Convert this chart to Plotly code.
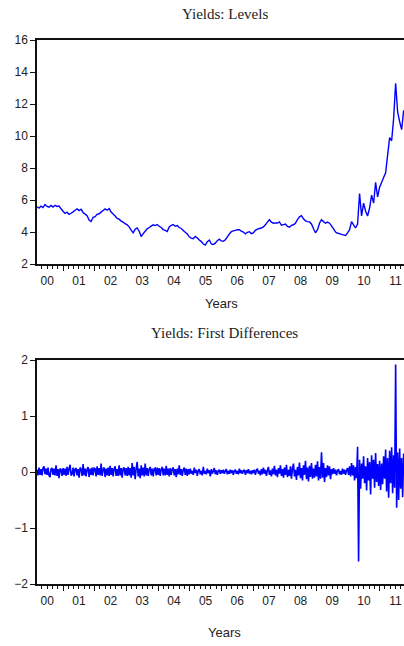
import pandas as pd
import plotly.graph_objects as go

# ---------------- data ----------------
start_date = "2000-03-06"
end_date = "2011-10-04"

# Yield levels, roughly every 23 days
level_values = [
    5.58, 5.50, 5.62, 5.53, 5.72, 5.60, 5.55, 5.66, 5.56, 5.67, 5.60, 5.62, 5.45,
    5.30, 5.16, 5.24, 5.10, 5.17, 5.26, 5.36, 5.44, 5.34, 5.42, 5.22, 5.12, 5.02,
    4.75, 4.66, 4.92, 4.96, 5.10, 5.14, 5.24, 5.34, 5.44, 5.36, 5.46, 5.25, 5.12,
    5.00, 4.85, 4.80, 4.68, 4.62, 4.52, 4.45, 4.32, 4.12, 3.95, 4.17, 4.25, 4.05,
    3.72, 3.90, 4.05, 4.20, 4.28, 4.37, 4.45, 4.40, 4.47, 4.36, 4.28, 4.15, 4.10,
    4.03, 4.32, 4.42, 4.47, 4.36, 4.40, 4.28, 4.22, 4.10, 3.98, 3.88, 3.70, 3.62,
    3.58, 3.72, 3.63, 3.50, 3.40, 3.25, 3.18, 3.40, 3.50, 3.25, 3.22, 3.30, 3.46,
    3.55, 3.44, 3.42, 3.52, 3.70, 3.88, 4.02, 4.07, 4.10, 4.14, 4.15, 4.05, 4.00,
    3.88, 3.98, 4.02, 3.90, 3.95, 4.10, 4.18, 4.22, 4.25, 4.32, 4.45, 4.62, 4.77,
    4.62, 4.55, 4.57, 4.56, 4.63, 4.42, 4.46, 4.50, 4.35, 4.30, 4.42, 4.45, 4.55,
    4.78, 4.95, 5.02, 4.82, 4.70, 4.65, 4.63, 4.50, 4.20, 3.95, 4.15, 4.55, 4.77,
    4.65, 4.55, 4.62, 4.55, 4.38, 4.20, 4.00, 3.92, 3.90, 3.85, 3.82, 3.78, 3.95,
    4.15, 4.65, 4.45, 4.25, 4.50, 6.40, 5.00, 5.80, 5.30, 5.00, 5.50, 6.30, 5.80,
    7.10, 6.20, 6.80, 7.10, 7.40, 7.70, 8.80, 9.90, 9.70, 11.10, 13.30, 11.50,
    10.90, 10.40, 11.60,
]

# Yield first differences, roughly every 11.5 days
diff_values = [
    # 2000
    0.04, -0.06, 0.08, -0.05, 0.05, -0.06, 0.07, 0.10, -0.04, 0.06, -0.05, 0.08, -0.06,
    -0.09, 0.05, 0.07, -0.05, 0.06, -0.06, 0.12, -0.07, 0.05, -0.11, 0.06, 0.04, -0.07,
    # 2001
    0.07, -0.05, 0.06, -0.07, 0.09, -0.05, 0.06, 0.13, -0.06, -0.04, 0.08, -0.08, 0.05,
    0.07, -0.06, 0.05, -0.10, 0.08, 0.05, -0.07, 0.14, -0.06, 0.06, -0.08, 0.05, 0.09,
    -0.09, 0.06, -0.05, 0.08, -0.06, 0.07,
    # 2002
    0.06, -0.08, 0.10, -0.05, 0.07, -0.06, 0.15, -0.07, 0.05, 0.08, -0.09, 0.06, -0.06,
    0.08, -0.07, 0.11, -0.05, 0.07, -0.08, 0.06, 0.10, -0.07, 0.05, -0.07, 0.12, -0.06,
    0.07, -0.10, 0.06, 0.08, -0.06, 0.07,
    # 2003
    -0.07, 0.09, -0.06, 0.07, -0.10, 0.16, -0.06, 0.09, -0.13, 0.06, 0.18, -0.08, 0.06,
    -0.11, 0.12, -0.06, 0.08, -0.08, 0.15, -0.06, 0.07, -0.07, 0.05, 0.09, -0.06, 0.06,
    -0.08, 0.06, 0.07, -0.06, 0.08,
    # 2004
    -0.05, 0.07, -0.07, 0.05, 0.09, -0.06, 0.06, -0.06, 0.11, -0.05, 0.06, -0.08, 0.07,
    -0.05, 0.05, 0.08, -0.06, 0.05, -0.09, 0.06, -0.04, 0.12, -0.05, 0.05, -0.07, 0.04,
    0.08, -0.05, 0.06, -0.07, 0.05, -0.04,
    # 2005
    0.06, -0.03, 0.02, -0.05, 0.08, -0.02, 0.04, -0.07, 0.03, 0.05, -0.04, 0.02, -0.06,
    0.09, -0.03, 0.02, -0.04, 0.06, -0.02, 0.03, -0.08, 0.05, -0.03, 0.02, 0.07, -0.04,
    0.03, -0.05, 0.02, 0.04, -0.03,
    # 2006
    0.03, -0.02, 0.04, -0.03, 0.02, 0.05, -0.04, 0.02, -0.03, 0.04, -0.02, 0.03, -0.05,
    0.02, 0.04, -0.03, 0.02, -0.04, 0.06, -0.02, 0.03, -0.03, 0.02, 0.04, -0.05, 0.03,
    -0.02, 0.05, -0.03, 0.02, -0.04, 0.03,
    # 2007
    -0.02, 0.04, -0.05, 0.03, 0.06, -0.03, 0.02, -0.06, 0.05, -0.04, 0.08, -0.03, 0.04,
    -0.07, 0.03, 0.09, -0.05, 0.03, -0.08, 0.06, -0.04, 0.11, -0.06, 0.04, -0.09, 0.07,
    -0.03, 0.12, -0.07, 0.05, -0.10,
    # 2008
    0.08, -0.05, 0.13, -0.09, 0.04, -0.07, 0.10, -0.12, 0.06, 0.15, -0.08, 0.04, -0.14,
    0.09, -0.06, 0.17, -0.11, 0.07, -0.15, 0.12, -0.05, 0.20, -0.13, 0.08, -0.17, 0.11,
    -0.09, 0.16, -0.12, 0.06, -0.10,
    # 2009
    0.13, -0.08, 0.19, -0.15, 0.09, -0.12, 0.35, -0.10, 0.16, -0.18, 0.07, -0.09, 0.12,
    -0.06, 0.10, -0.13, 0.05, -0.04, 0.07, -0.03, 0.04, -0.06, 0.03, 0.05, -0.04, 0.02,
    -0.05, 0.06, -0.03, 0.04, -0.05, 0.03,
    # 2010
    0.07, -0.05, 0.10, -0.08, 0.16, -0.06, 0.12, -0.15, 0.09, -0.11, 0.45, -1.60, 0.22,
    -0.30, 0.15, -0.12, 0.28, -0.20, 0.10, -0.33, 0.25, -0.15, 0.18, -0.40, 0.30, -0.12,
    0.22, -0.28, 0.34, -0.18, 0.14, -0.25,
    # 2011
    0.20, -0.32, 0.15, -0.22, 0.28, -0.12, 0.40, -0.35, 0.25, -0.46, 0.38, -0.20, 0.44,
    -0.38, 0.30, -0.28, 1.92, -0.64, 0.35, -0.50, 0.42, -0.30, 0.25, -0.45, 0.33,
]

top_title = "Yields: Levels"
bottom_title = "Yields: First Differences"
x_title = "Years"

# ---------------- figure ----------------
level_dates = pd.date_range(start_date, end_date, periods=len(level_values))
diff_dates = pd.date_range(start_date, end_date, periods=len(diff_values))

W, H = 404, 646
BLUE = "#0000ff"
SANS = "Liberation Sans, Arial, Helvetica, sans-serif"
SERIF = "Liberation Serif, Times New Roman, serif"

fig = go.Figure()
fig.add_trace(go.Scatter(x=level_dates, y=level_values, mode="lines",
                         line=dict(color=BLUE, width=1.4, simplify=False),
                         xaxis="x", yaxis="y", hoverinfo="skip"))
fig.add_trace(go.Scatter(x=diff_dates, y=diff_values, mode="lines",
                         line=dict(color=BLUE, width=1.6, simplify=False),
                         xaxis="x2", yaxis="y2", hoverinfo="skip"))


def ypos(px):
    return 1 - px / H


def xpos(px):
    return (px - 37) / (W - 37)


xcommon = dict(
    type="date",
    range=["2000-03-06", "2011-10-08"],
    tick0="2000-01-01", dtick="M12", tickformat="%y",
    ticklabelmode="period",
    ticks="outside", ticklen=5, tickwidth=1, tickcolor="#111",
    showgrid=False, zeroline=False,
    showline=True, linecolor="#111", linewidth=1.5, mirror=True,
    tickfont=dict(family=SANS, size=12, color="#222"),
    minor=dict(dtick="M2", ticks="outside", ticklen=3, tickwidth=1,
               tickcolor="#111", showgrid=False),
    fixedrange=True,
)
ycommon = dict(
    ticks="outside", ticklen=5, tickwidth=1, tickcolor="#111",
    showgrid=False, zeroline=False,
    showline=True, linecolor="#111", linewidth=1.5,
    tickfont=dict(family=SANS, size=12, color="#222"),
    fixedrange=True,
)

fig.update_layout(
    width=W, height=H,
    margin=dict(l=37, r=0, t=0, b=0, autoexpand=False),
    paper_bgcolor="white", plot_bgcolor="white",
    showlegend=False,
    xaxis=dict(xcommon, domain=[0, 1], anchor="y"),
    yaxis=dict(ycommon, range=[2, 16], dtick=2, tick0=2,
               domain=[ypos(264), ypos(40)], anchor="x"),
    xaxis2=dict(xcommon, domain=[0, 1], anchor="y2"),
    yaxis2=dict(ycommon, range=[-2, 2], dtick=1, tick0=0,
                domain=[ypos(584), ypos(360)], anchor="x2"),
    annotations=[
        dict(text=top_title, x=xpos(225), y=ypos(14),
             xref="paper", yref="paper", showarrow=False,
             xanchor="center", yanchor="middle",
             font=dict(family=SERIF, size=15, color="#222")),
        dict(text=bottom_title, x=xpos(224), y=ypos(333),
             xref="paper", yref="paper", showarrow=False,
             xanchor="center", yanchor="middle",
             font=dict(family=SERIF, size=15, color="#222")),
        dict(text=x_title, x=xpos(221), y=ypos(303),
             xref="paper", yref="paper", showarrow=False,
             xanchor="center", yanchor="middle",
             font=dict(family=SANS, size=13, color="#222")),
        dict(text=x_title, x=xpos(224), y=ypos(632),
             xref="paper", yref="paper", showarrow=False,
             xanchor="center", yanchor="middle",
             font=dict(family=SANS, size=13, color="#222")),
    ],
)

fig.write_html(
    "out.html",
    config={"displayModeBar": False, "responsive": False},
    post_script="document.body.style.margin='0px';document.body.style.overflow='hidden';",
)
